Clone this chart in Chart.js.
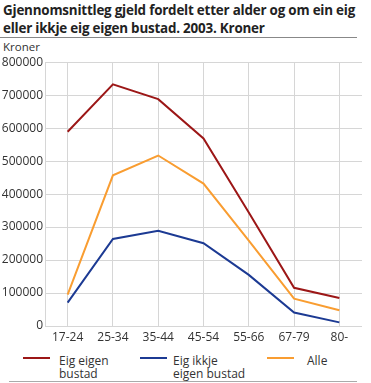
<!DOCTYPE html>
<html><head><meta charset="utf-8">
<script src="https://cdn.jsdelivr.net/npm/chart.js@4"></script>
<style>
body{margin:0;width:371px;height:383px;position:relative;background:#fff;font-family:"Open Sans",sans-serif;color:#222;overflow:hidden}
#title{position:absolute;left:3px;top:1px;font-weight:bold;font-size:13.4px;line-height:18px;white-space:nowrap;letter-spacing:-0.2px}
.rule{position:absolute;left:0;width:357px;height:1px;background:#888}
#unit{position:absolute;left:3px;top:39px;font-size:11.5px;color:#333}
#wrap{position:absolute;left:0;top:53px;width:362px;height:292px}
.leg{position:absolute;font-size:12px;line-height:13px;color:#333}
.sw{position:absolute;height:2px}
</style></head><body>
<div id="title">Gjennomsnittleg gjeld fordelt etter alder og om ein eig<br>eller ikkje eig eigen bustad. 2003. Kroner</div>
<div class="rule" style="top:37px"></div>
<div id="unit">Kroner</div>
<div id="wrap"><canvas id="c" width="362" height="292"></canvas></div>
<div id="legend"></div>
<div class="rule" style="top:381px;left:9px;width:348px;background:#aaa"></div>
<script>
const categories = ["17-24","25-34","35-44","45-54","55-66","67-79","80-"];
const eigEigen = [589000,733000,688000,569000,344000,116000,85000];
const eigIkkje = [71000,264000,289000,251000,155000,41000,11000];
const alle = [95000,457000,517000,432000,259000,83000,48000];
const seriesNames = [["Eig eigen","bustad"],["Eig ikkje","eigen bustad"],["Alle"]];
const colors = ["#9c1717","#1c3a93","#f99d31"];

const ds = [eigEigen, eigIkkje, alle].map((d,i)=>({
  label: seriesNames[i].join(" "), data: d, borderColor: colors[i], backgroundColor: colors[i],
  borderWidth: 2, pointRadius: 0, tension: 0, fill: false
}));
new Chart(document.getElementById('c'), {
  type: 'line',
  data: { labels: categories, datasets: ds },
  options: {
    responsive: false, animation: false,
    layout: { padding: { top: 7, right: 0, left: 0, bottom: 0 } },
    plugins: { legend: { display: false }, tooltip: { enabled: false } },
    scales: {
      x: {
        offset: true,
        grid: { offset: false, color: '#d6d6d6', lineWidth: 1, drawTicks: false },
        border: { display: false },
        ticks: { color: '#333', font: { family: 'Open Sans', size: 12 }, padding: 4, maxRotation: 0, autoSkip: false },
        afterFit: s => { s.height = 19; }
      },
      y: {
        min: 0, max: 800000,
        grid: { color: '#d6d6d6', lineWidth: 1, drawTicks: false },
        border: { display: true, color: '#d6d6d6' },
        ticks: { stepSize: 100000, color: '#333', font: { family: 'Open Sans', size: 12 }, padding: 2,
                 callback: v => String(v) },
        afterFit: s => { s.width = 45; }
      }
    }
  }
});

const leg = document.getElementById('legend');
const legPos = [{sx:23,tx:59},{sx:140,tx:173},{sx:267,tx:307}];
seriesNames.forEach((n,i)=>{
  const sw = document.createElement('div'); sw.className='sw';
  sw.style.cssText = `left:${legPos[i].sx}px;top:357px;width:27px;background:${colors[i]}`;
  leg.appendChild(sw);
  const t = document.createElement('div'); t.className='leg';
  t.style.left = legPos[i].tx+'px';
  t.style.top = '354px';
  t.innerHTML = n.join('<br>');
  leg.appendChild(t);
});
</script>
</body></html>
